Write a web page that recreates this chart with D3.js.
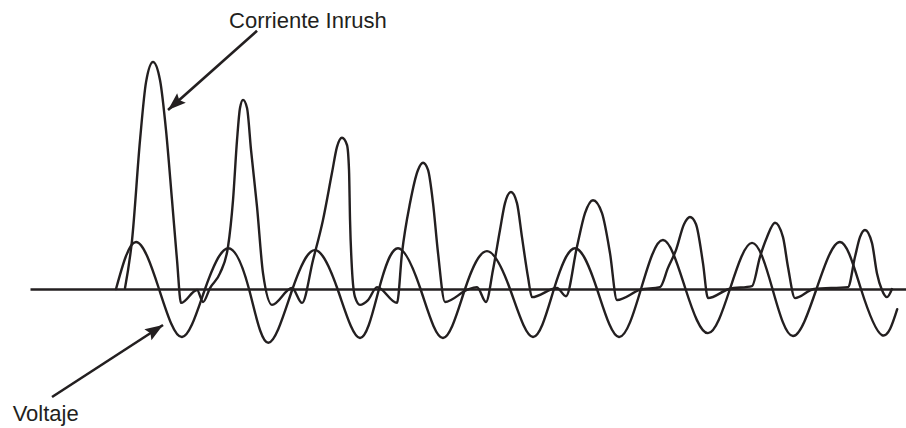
<!DOCTYPE html>
<html>
<head>
<meta charset="utf-8">
<script src="https://cdn.jsdelivr.net/npm/d3@7"></script>
<style>
  html, body { margin: 0; padding: 0; background: #fff; }
  svg { display: block; }
  text { font-family: "Liberation Sans", Arial, sans-serif; fill: #231f20; }
</style>
</head>
<body>
<svg id="chart" width="906" height="428"></svg>
<script>
// ---- Data (time in ms, value in per-unit) ----
const voltageTime = [0, 4.56, 9.80, 15.04, 20.28, 25.52, 30.30, 34.71, 40.21, 45.34, 50.47, 55.59,
  59.92, 64.25, 69.38, 74.50, 79.52, 84.53, 89.77, 95.01, 99.79, 104.58, 109.59, 114.60,
  119.62, 124.63, 129.76, 134.88, 139.89, 144.91, 149.58, 154.25, 159.60, 164.96, 169.74, 174.52, 178.00];
const voltageValue = [0, 0.98, 0, -1.0, 0, 0.85, 0, -1.12, 0, 0.81, 0, -1.02,
  0, 0.85, 0, -1.02, 0, 0.79, 0, -1.0, 0, 0.85, 0, -1.0,
  0, 1.02, 0, -0.92, 0, 0.96, 0, -0.98, 0, 0.98, 0, -0.96, -0.42];

const currentTime = [2.05, 3.65, 5.47, 6.84, 8.43, 10.03, 11.39, 12.76, 13.90, 14.81,
  18.46, 19.82, 21.42, 23.70, 25.52, 26.66, 27.57, 28.25, 28.94, 29.85, 30.76, 32.13, 33.49, 35.54,
  40.10, 42.38, 44.88, 47.16, 49.21, 50.35, 51.49, 52.63, 53.09, 53.32, 53.77, 54.46, 55.59, 57.42, 59.47,
  64.03, 65.16, 66.99, 68.81, 69.95, 71.09, 72.23, 73.37, 74.96,
  79.97, 82.25, 84.30, 85.90, 87.49, 88.63, 90.00, 91.36, 92.50, 93.87, 94.78,
  100.48, 102.53, 105.03, 106.86, 108.68, 110.73, 112.55, 114.15,
  119.39, 123.95, 125.77, 127.59, 129.42, 130.78, 132.15, 133.74, 134.88,
  139.67, 144.91, 146.73, 148.32, 150.15, 151.97, 153.11, 154.71,
  159.03, 166.78, 168.38, 169.51, 170.65, 172.24, 173.38, 174.52, 175.66, 176.80];
const currentValue = [0.02, 1.02, 3.10, 4.31, 4.73, 4.35, 3.31, 1.85, 0.60, -0.29,
  -0.02, -0.27, 0.02, 0.33, 0.88, 1.85, 3.10, 3.77, 3.94, 3.77, 2.90, 1.71, 0.33, -0.33,
  0.02, -0.29, 0.60, 1.44, 2.42, 2.96, 3.15, 3.00, 2.48, 1.44, 0.40, -0.17, -0.33, -0.23, 0.04,
  -0.29, 0.75, 1.79, 2.48, 2.63, 2.48, 1.79, 0.75, -0.27,
  -0.02, 0.04, -0.27, 0.40, 1.23, 1.79, 2.02, 1.79, 1.08, 0.25, -0.17,
  0.02, -0.15, 0.88, 1.58, 1.85, 1.58, 0.75, -0.23,
  -0.02, 0.04, 0.44, 0.81, 1.35, 1.50, 1.35, 0.54, -0.19,
  0.00, 0.06, 0.67, 1.08, 1.38, 1.08, 0.46, -0.19,
  0.00, 0.04, 0.67, 1.08, 1.23, 0.96, 0.33, -0.02, -0.17, 0.00];

// Annotations (data units)
const labelText = ["Corriente Inrush", "Voltaje"];
const labelT = [25.75, -23.55];
const labelV = [5.44, -2.75];
const arrowFromT = [32.13, -14.58];
const arrowFromV = [5.38, -2.25];
const arrowToT = [11.85, 10.71];
const arrowToV = [3.73, -0.75];

// ---- Drawing ----
const ink = "#231f20";
const svg = d3.select("#chart");

const x = d3.scaleLinear().domain([-19.6, 180]).range([30, 906]);
const y = d3.scaleLinear().domain([-2.5, 5]).range([409, 49]);

// zero axis
const axisG = svg.append("g")
  .attr("transform", `translate(0,${y(0)})`)
  .call(d3.axisBottom(x).ticks(0).tickSizeOuter(0).tickFormat(""));
axisG.select(".domain").attr("stroke", ink).attr("stroke-width", 2.6);

const voltage = voltageTime.map((t, i) => [t, voltageValue[i]]);
const current = currentTime.map((t, i) => [t, currentValue[i]]);

svg.append("path")
  .datum(voltage)
  .attr("fill", "none")
  .attr("stroke", ink)
  .attr("stroke-width", 2.4)
  .attr("stroke-linecap", "round")
  .attr("d", d3.line().x(d => x(d[0])).y(d => y(d[1])).curve(d3.curveNatural));

svg.append("path")
  .datum(current)
  .attr("fill", "none")
  .attr("stroke", ink)
  .attr("stroke-width", 2.4)
  .attr("stroke-linejoin", "round")
  .attr("stroke-linecap", "round")
  .attr("d", d3.line().x(d => x(d[0])).y(d => y(d[1])).curve(d3.curveMonotoneX));

// arrowheads
svg.append("defs").append("marker")
  .attr("id", "arrow")
  .attr("viewBox", "-20 -8 22 16")
  .attr("refX", 0).attr("refY", 0)
  .attr("markerWidth", 22).attr("markerHeight", 16)
  .attr("markerUnits", "userSpaceOnUse")
  .attr("orient", "auto")
  .append("path")
  .attr("d", "M0,0 L-18,-6.5 L-15,0 L-18,6.5 Z")
  .attr("fill", ink);

arrowFromT.forEach((t, i) => {
  svg.append("line")
    .attr("x1", x(t)).attr("y1", y(arrowFromV[i]))
    .attr("x2", x(arrowToT[i])).attr("y2", y(arrowToV[i]))
    .attr("stroke", ink).attr("stroke-width", 2.6)
    .attr("marker-end", "url(#arrow)");
});

labelText.forEach((s, i) => {
  svg.append("text")
    .attr("x", x(labelT[i])).attr("y", y(labelV[i]))
    .attr("font-size", 22)
    .text(s);
});
</script>
</body>
</html>
